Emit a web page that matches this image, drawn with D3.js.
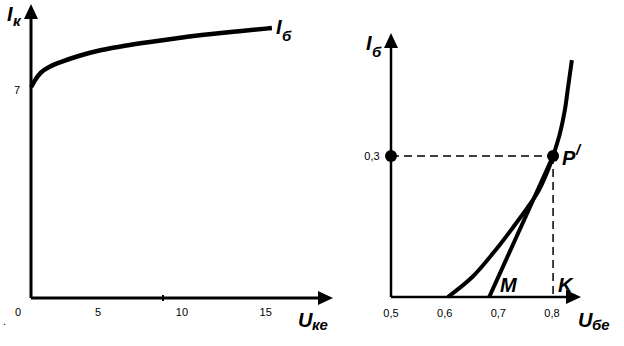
<!DOCTYPE html>
<html>
<head>
<meta charset="UTF-8" />
<style>
  body { margin: 0; background: #fff; }
  text { font-family: "Liberation Sans", Arial, sans-serif; fill: #000; }
  .tick { font-size: 11px; }
  .lbl { font-size: 20px; font-weight: bold; font-style: italic; }
  .sub { font-size: 15px; font-weight: bold; font-style: italic; }
</style>
<script src="https://d3js.org/d3.v7.min.js"></script>
</head>
<body>
<svg width="624" height="346"></svg>
<script>
// left chart: output characteristic Ik(Uke)
var ukeTicks = [0, 5, 10, 15];
var ikTicks = [7];
var ukeVals = [1.0, 1.2, 1.53, 2.1, 2.73, 3.8, 5.11, 6.6, 8.1, 9.6, 11.08, 13.2, 15.37];
var ikVals  = [7.1, 7.3, 7.6, 7.8, 7.94, 8.15, 8.35, 8.5, 8.62, 8.74, 8.85, 8.97, 9.09];

// right chart: input characteristic Ib(Ube)
var ubeTicks = [0.5, 0.6, 0.7, 0.8];
var ibTicks = [0.3];
var ubeVals = [0.606, 0.652, 0.695, 0.728, 0.755, 0.776, 0.795, 0.802, 0.815, 0.824, 0.830, 0.837];
var ibVals  = [0.0, 0.043, 0.100, 0.149, 0.191, 0.228, 0.277, 0.300, 0.349, 0.398, 0.447, 0.504];
var tangentU = [0.683, 0.802];
var tangentI = [0.0, 0.30];
var pointP = [0.802, 0.30];

var svg = d3.select("svg");

function arrowHead(g, x, y, dir) {
  var p = dir == "up"
    ? [[x, y], [x - 7, y + 15], [x + 7, y + 15]]
    : [[x, y], [x - 15, y - 7], [x - 15, y + 7]];
  g.append("path").attr("d", "M" + p.join("L") + "Z").attr("fill", "#000");
}

// ---------- left ----------
var xL = d3.scaleLinear().domain([0, 15]).range([14.3, 265.7]);
var yL = d3.scaleLinear().domain([0, 10]).range([298, 1]);
var gl = svg.append("g");
var ax0 = 31;

gl.append("line").attr("x1", ax0).attr("x2", ax0).attr("y1", 298).attr("y2", 14)
  .attr("stroke", "#000").attr("stroke-width", 3);
arrowHead(gl, ax0, 4, "up");
gl.append("line").attr("x1", ax0).attr("x2", 320).attr("y1", 298).attr("y2", 298)
  .attr("stroke", "#000").attr("stroke-width", 3);
arrowHead(gl, 333, 298, "right");
gl.append("line").attr("x1", 163).attr("x2", 163).attr("y1", 295).attr("y2", 301)
  .attr("stroke", "#000").attr("stroke-width", 2);

gl.selectAll(".tx").data(ukeTicks).enter().append("text")
  .attr("class", "tick").attr("text-anchor", "middle")
  .attr("x", function(d) { return d == 0 ? 18 : xL(d); }).attr("y", 316)
  .text(function(d) { return d; });
gl.selectAll(".ty").data(ikTicks).enter().append("text")
  .attr("class", "tick").attr("text-anchor", "middle")
  .attr("x", 17).attr("y", function(d) { return yL(d) + 4; })
  .text(function(d) { return d; });

var lineL = d3.line().curve(d3.curveBasis)
  .x(function(d) { return xL(d[0]); }).y(function(d) { return yL(d[1]); });
gl.append("path").datum(d3.zip(ukeVals, ikVals)).attr("d", lineL)
  .attr("fill", "none").attr("stroke", "#000").attr("stroke-width", 4.5);

gl.append("text").attr("class", "lbl").attr("x", 7).attr("y", 21).text("I");
gl.append("text").attr("class", "sub").attr("x", 13).attr("y", 26).text("к");
gl.append("text").attr("class", "lbl").attr("x", 276).attr("y", 34).text("I");
gl.append("text").attr("class", "sub").attr("x", 282).attr("y", 41).text("б");
gl.append("text").attr("class", "lbl").attr("x", 298).attr("y", 327).text("U");
gl.append("text").attr("class", "sub").attr("x", 312).attr("y", 330).text("ке");
gl.append("text").attr("class", "tick").attr("x", 3).attr("y", 325).text(".");

// ---------- right ----------
var xR = d3.scaleLinear().domain([0.5, 0.8]).range([391, 552]);
var yR = d3.scaleLinear().domain([0, 0.3]).range([297, 156]);
var gr = svg.append("g");

gr.append("line").attr("x1", 391).attr("x2", 391).attr("y1", 297).attr("y2", 45)
  .attr("stroke", "#000").attr("stroke-width", 2.5);
arrowHead(gr, 391, 33, "up");
gr.append("line").attr("x1", 391).attr("x2", 570).attr("y1", 297).attr("y2", 297)
  .attr("stroke", "#000").attr("stroke-width", 2.5);
arrowHead(gr, 581, 297, "right");

gr.selectAll(".tx").data(ubeTicks).enter().append("text")
  .attr("class", "tick").attr("text-anchor", "middle")
  .attr("x", function(d) { return xR(d); }).attr("y", 317)
  .text(function(d) { return String(d).replace(".", ","); });
gr.selectAll(".ty").data(ibTicks).enter().append("text")
  .attr("class", "tick").attr("text-anchor", "middle")
  .attr("x", 372).attr("y", function(d) { return yR(d) + 4; })
  .text(function(d) { return String(d).replace(".", ","); });

// dashed guides
gr.append("line").attr("x1", xR(0.5)).attr("x2", xR(pointP[0]))
  .attr("y1", yR(pointP[1])).attr("y2", yR(pointP[1]))
  .attr("stroke", "#000").attr("stroke-width", 1.5).attr("stroke-dasharray", "8,5");
gr.append("line").attr("x1", xR(pointP[0])).attr("x2", xR(pointP[0]))
  .attr("y1", yR(pointP[1])).attr("y2", yR(0))
  .attr("stroke", "#000").attr("stroke-width", 1.5).attr("stroke-dasharray", "8,5");

var lineR = d3.line().curve(d3.curveCatmullRom)
  .x(function(d) { return xR(d[0]); }).y(function(d) { return yR(d[1]); });
gr.append("path").datum(d3.zip(ubeVals, ibVals)).attr("d", lineR)
  .attr("fill", "none").attr("stroke", "#000").attr("stroke-width", 4);
gr.append("path").datum(d3.zip(tangentU, tangentI)).attr("d", d3.line()
    .x(function(d) { return xR(d[0]); }).y(function(d) { return yR(d[1]); }))
  .attr("fill", "none").attr("stroke", "#000").attr("stroke-width", 4);

gr.append("circle").attr("cx", xR(0.5)).attr("cy", yR(pointP[1])).attr("r", 6);
gr.append("circle").attr("cx", xR(pointP[0])).attr("cy", yR(pointP[1])).attr("r", 6);

gr.append("text").attr("class", "lbl").attr("x", 562).attr("y", 165).text("P");
gr.append("text").attr("class", "sub").attr("x", 576).attr("y", 155).attr("font-weight", "normal").text("/");
gr.append("text").attr("class", "lbl").attr("x", 500).attr("y", 292).text("M");
gr.append("text").attr("class", "lbl").attr("x", 558).attr("y", 292).text("K");
gr.append("text").attr("class", "lbl").attr("x", 366).attr("y", 50).text("I");
gr.append("text").attr("class", "sub").attr("x", 372).attr("y", 57).text("б");
gr.append("text").attr("class", "lbl").attr("x", 578).attr("y", 327).text("U");
gr.append("text").attr("class", "sub").attr("x", 592).attr("y", 330).text("бе");
</script>
</body>
</html>
